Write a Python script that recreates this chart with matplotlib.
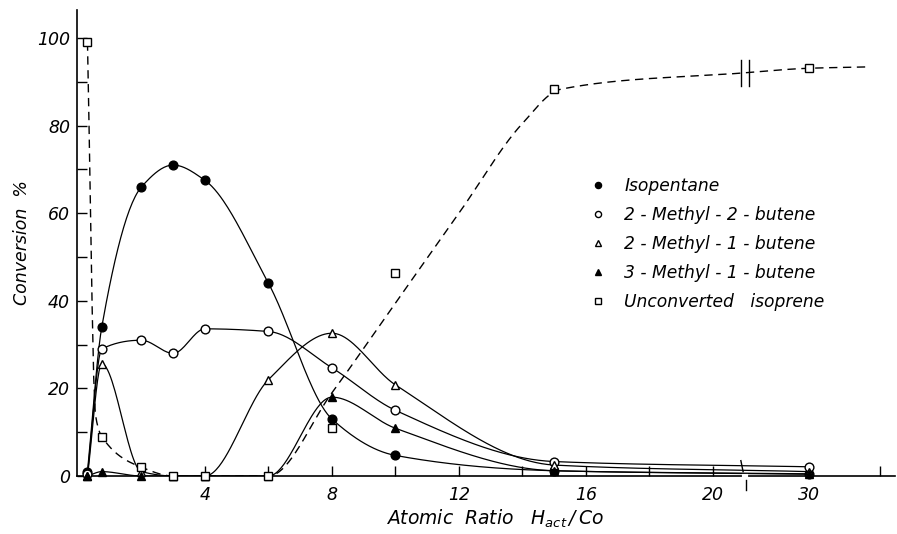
import numpy as np
import matplotlib
matplotlib.use('Agg')
import matplotlib.pyplot as plt
from matplotlib.lines import Line2D

plt.rcParams['font.family'] = ['DejaVu Sans']
plt.rcParams['font.style'] = 'italic'
plt.rcParams['mathtext.fontset'] = 'dejavusans'
plt.rcParams['mathtext.default'] = 'it'

# atomic ratio H_act/Co at which samples were taken
ratio = [0.3, 0.75, 2, 3, 4, 6, 8, 10, 15, 30]

# conversion % per product
isopentane = [1.0, 34, 66, 71, 67.5, 44, 13, 4.7, 1.2, 0.4]
m2b2 = [0.5, 29, 31, 28, 33.6, 33, 24.7, 15, 3.3, 2.1]      # 2-methyl-2-butene
m2b1 = [0.0, 25.6, 1.0, 0, 0, 22, 32.6, 20.8, 2.5, 1.0]     # 2-methyl-1-butene
m3b1 = [0.0, 1.0, 0, 0, 0, 0, 18, 10.9, 1.2, 0.5]           # 3-methyl-1-butene
isoprene = [99, 9, 2, 0, 0, 0, 11, 46.4, 88.3, 93.1]        # unconverted

# the hand drawn dashed curve for isoprene (does not pass through every point)
iso_fit_x = [0.3, 0.55, 0.75, 2, 3, 6, 8, 10, 12, 14, 15.2, 20.9, 30, 38]
iso_fit_y = [99, 14, 9, 2, 0, 0, 19, 39.5, 60, 80.5, 88.3, 92, 93.1, 93.4]

xticks = [4, 8, 12, 16, 20, 30]
xminor = [2, 6, 10, 14, 18, 40]

# broken x axis: beyond the break the scale is squeezed
BRK = 21.0
SQ = 0.225


def fwd(x):
    x = np.asarray(x, float)
    return np.where(x <= BRK, x, BRK + (x - BRK) * SQ)


def inv(d):
    d = np.asarray(d, float)
    return np.where(d <= BRK, d, BRK + (d - BRK) / SQ)


def pchip(x, y, xs):
    x = np.asarray(x, float)
    y = np.asarray(y, float)
    h = np.diff(x)
    dl = np.diff(y) / h
    m = np.zeros_like(y)
    for k in range(1, len(x) - 1):
        if dl[k - 1] * dl[k] > 0:
            w1 = 2 * h[k] + h[k - 1]
            w2 = h[k] + 2 * h[k - 1]
            m[k] = (w1 + w2) / (w1 / dl[k - 1] + w2 / dl[k])
    m[0] = dl[0]
    m[-1] = dl[-1]
    i = np.clip(np.searchsorted(x, xs) - 1, 0, len(h) - 1)
    t = (xs - x[i]) / h[i]
    return ((2*t**3 - 3*t**2 + 1) * y[i] + (t**3 - 2*t**2 + t) * h[i] * m[i]
            + (-2*t**3 + 3*t**2) * y[i + 1] + (t**3 - t**2) * h[i] * m[i + 1])


def smooth(x, y, n=500):
    d = fwd(x)
    ds = np.linspace(d[0], d[-1], n)
    return inv(ds), pchip(d, y, ds)


fig = plt.figure(figsize=(8.97, 5.34), dpi=100)
ax = fig.add_axes([77/897, 1 - 476/534, 817.7/897, 466/534])
ax.set_xscale('function', functions=(fwd, inv))

lw = 0.9
ms = 6.3
series = [
    (isopentane, 'o', 'black', 'Isopentane'),
    (m2b2, 'o', 'white', '2 - Methyl - 2 - butene'),
    (m2b1, '^', 'white', '2 - Methyl - 1 - butene'),
    (m3b1, '^', 'black', '3 - Methyl - 1 - butene'),
]
handles = []
for vals, mk, fc, lab in series:
    xs, ys = smooth(ratio, vals)
    ax.plot(xs, ys, color='black', lw=lw, zorder=2)
    ax.plot(ratio, vals, ls='none', marker=mk, ms=ms, mfc=fc, mec='black',
            mew=1.0, zorder=3, clip_on=False)
    handles.append(Line2D([], [], ls='none', marker=mk, ms=ms, mfc=fc,
                          mec='black', mew=1.0, label=lab))

xs, ys = smooth(iso_fit_x, iso_fit_y)
ax.plot(xs, ys, color='black', lw=1.0, ls=(0, (6, 4)), zorder=2)
ax.plot(ratio, isoprene, ls='none', marker='s', ms=6, mfc='white',
        mec='black', mew=1.0, zorder=3, clip_on=False)
handles.append(Line2D([], [], ls='none', marker='s', ms=6, mfc='white',
                      mec='black', mew=1.0, label='Unconverted   isoprene'))

# break marks on the isoprene curve and on the axis
yb = np.interp(BRK, iso_fit_x, iso_fit_y)
for dd in (-0.12, 0.15):
    xb = inv(BRK + dd)
    ax.plot([xb, xb], [yb - 3, yb + 3], color='black', lw=1.0, zorder=4)
ax.plot([inv(BRK - 0.12), inv(BRK - 0.05)], [3.5, 1.0], color='black', lw=1.0,
        clip_on=False, zorder=4)
ax.plot([inv(BRK + 0.05), inv(BRK + 0.05)], [-0.8, -3.2], color='black', lw=1.0,
        clip_on=False, zorder=4)
ax.plot([inv(BRK - 0.03), inv(BRK + 0.03)], [0, 0], color='white', lw=3,
        clip_on=False, zorder=5)

ax.set_xlim(-0.03, 42)
ax.set_ylim(0, 106.4)

for s in ('top', 'right'):
    ax.spines[s].set_visible(False)
for s in ('left', 'bottom'):
    ax.spines[s].set_linewidth(1.2)

ax.set_xticks(xticks)
ax.set_xticklabels([str(v) for v in xticks])
ax.set_xticks(xminor, minor=True)
ax.set_yticks([0, 20, 40, 60, 80, 100])
ax.set_yticks([10, 30, 50, 70, 90], minor=True)
ax.tick_params(which='both', direction='in', length=7, width=1.0,
               labelsize=12.5, pad=5)
ax.tick_params(axis='x', pad=7)

fig.text(495/897, 1 - 519/534, r'Atomic  Ratio   $H_{act}\,/\,Co$',
         ha='center', va='center', fontsize=13.5)
fig.text(22/897, 1 - 243/534, 'Conversion  %', rotation=90,
         ha='center', va='center', fontsize=12.5)

ax.legend(handles=handles, loc='upper left', frameon=False,
          bbox_to_anchor=(590/897, 1 - 177/534), bbox_transform=fig.transFigure,
          fontsize=12.3, markerscale=0.7, handlelength=0.9, handletextpad=1.1,
          labelspacing=0.64, borderpad=0, borderaxespad=0)

fig.savefig('out.png', dpi=100, facecolor='white')
